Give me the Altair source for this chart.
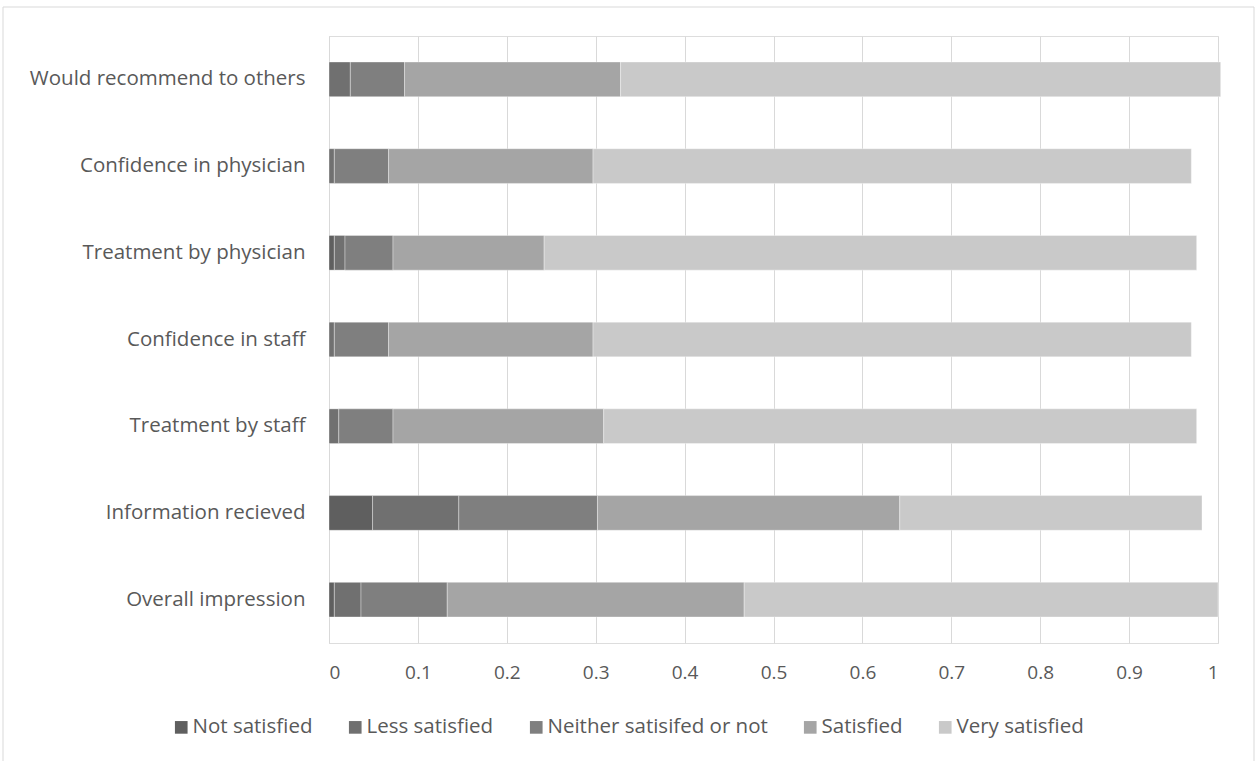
import altair as alt
import pandas as pd

questions = [
    "Would recommend to others",
    "Confidence in physician",
    "Treatment by physician",
    "Confidence in staff",
    "Treatment by staff",
    "Information recieved",
    "Overall impression",
]
levels = ["Not satisfied", "Less satisfied", "Neither satisifed or not", "Satisfied", "Very satisfied"]
colors = ["#5f5f5f", "#707070", "#7f7f7f", "#a5a5a5", "#c9c9c9"]

not_satisfied = [0.000, 0.000, 0.006, 0.000, 0.000, 0.049, 0.006]
less_satisfied = [0.024, 0.006, 0.012, 0.006, 0.011, 0.097, 0.030]
neither = [0.061, 0.061, 0.054, 0.061, 0.061, 0.156, 0.097]
satisfied = [0.243, 0.230, 0.170, 0.230, 0.237, 0.340, 0.334]
very_satisfied = [0.675, 0.673, 0.734, 0.673, 0.667, 0.340, 0.533]

series = [not_satisfied, less_satisfied, neither, satisfied, very_satisfied]
rows = []
for li, (lev, vals) in enumerate(zip(levels, series)):
    for q, v in zip(questions, vals):
        rows.append({"question": q, "level": lev, "order": li, "value": v})
df = pd.DataFrame(rows)

FONT = "Open Sans"
TXT = "#595959"

bars = alt.Chart(df).mark_bar(stroke="#ffffff", strokeWidth=1, strokeOpacity=0.35).encode(
    x=alt.X(
        "value:Q",
        stack="zero",
        scale=alt.Scale(domain=[0, 1], nice=False),
        axis=alt.Axis(
            values=[0, 0.1, 0.2, 0.3, 0.4, 0.5, 0.6, 0.7, 0.8, 0.9, 1],
            format="~g",
            title=None,
            domain=False,
            ticks=False,
            grid=True,
            gridColor="#d9d9d9",
            gridWidth=1,
            labelFont=FONT,
            labelFontSize=19,
            labelColor=TXT,
            labelPadding=20,
        ),
    ),
    y=alt.Y(
        "question:N",
        sort=questions,
        scale=alt.Scale(paddingInner=0.6, paddingOuter=0.3),
        axis=alt.Axis(
            title=None,
            domain=True,
            domainColor="#d9d9d9",
            domainWidth=1,
            ticks=False,
            labelFont=FONT,
            labelFontSize=20.5,
            labelColor=TXT,
            labelPadding=24,
            labelLimit=400,
        ),
    ),
    color=alt.Color(
        "level:N",
        sort=levels,
        scale=alt.Scale(domain=levels, range=colors),
        legend=alt.Legend(
            title=None,
            orient="none",
            direction="horizontal",
            legendX=-158,
            legendY=681,
            symbolType="square",
            symbolSize=160,
            symbolStrokeWidth=0,
            labelFont=FONT,
            labelFontSize=20.5,
            labelColor=TXT,
            labelOffset=1,
            labelLimit=400,
            columnPadding=32,
        ),
    ),
    order=alt.Order("order:Q", sort="ascending"),
)

frame = alt.Chart(pd.DataFrame({"a": [0]})).mark_rect(
    fill="transparent", stroke="#d9d9d9", strokeWidth=1
).encode(
    x=alt.value(-326), x2=alt.value(925), y=alt.value(-29), y2=alt.value(740)
)

chart = alt.layer(frame, bars).properties(
    width=889,
    height=607,
    padding={"left": 329, "top": 36, "right": 41, "bottom": 118},
    autosize=alt.AutoSizeParams(type="none"),
).configure_view(stroke=None).configure(background="white")

chart.save("out.html", embed_options={"renderer": "svg", "actions": False})
